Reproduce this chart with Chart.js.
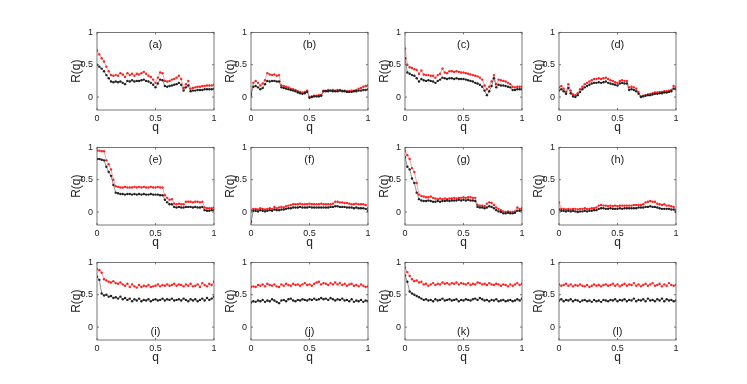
<!DOCTYPE html>
<html>
<head>
<meta charset="utf-8">
<script src="https://cdn.jsdelivr.net/npm/chart.js@4.4.0/dist/chart.umd.min.js"></script>
<style>
  body { margin: 0; background: #fff; }
  #wrap { position: relative; width: 747px; height: 384px; overflow: hidden; }
  #wrap canvas { position: absolute; }
</style>
</head>
<body>
<div id="wrap"></div>
<script>
const qVals = [0, 0.02, 0.04, 0.06, 0.08, 0.10, 0.12, 0.14, 0.16, 0.18,
    0.20, 0.22, 0.24, 0.26, 0.28, 0.30, 0.32, 0.34, 0.36, 0.38,
    0.40, 0.42, 0.44, 0.46, 0.48, 0.50, 0.52, 0.54, 0.56, 0.58,
    0.60, 0.62, 0.64, 0.66, 0.68, 0.70, 0.72, 0.74, 0.76, 0.78,
    0.80, 0.82, 0.84, 0.86, 0.88, 0.90, 0.92, 0.94, 0.96, 0.98, 1];
const xTicks = [0, 0.5, 1];
const yTicks = [0, 0.5, 1];
const panelLabels = ['(a)','(b)','(c)','(d)','(e)','(f)','(g)','(h)','(i)','(j)','(k)','(l)'];

//--------------------------//
const redA = [0.72, 0.66, 0.60, 0.55, 0.47, 0.40, 0.34, 0.33, 0.34, 0.33,
    0.37, 0.35, 0.31, 0.37, 0.34, 0.36, 0.33, 0.36, 0.35, 0.37,
    0.39, 0.36, 0.33, 0.31, 0.27, 0.22, 0.30, 0.38, 0.37, 0.25,
    0.24, 0.25, 0.27, 0.28, 0.30, 0.33, 0.28, 0.14, 0.20, 0.25,
    0.13, 0.14, 0.15, 0.16, 0.16, 0.17, 0.17, 0.18, 0.18, 0.18, 0.19];
const blackA = [0.50, 0.47, 0.44, 0.40, 0.34, 0.29, 0.24, 0.23, 0.24, 0.23,
    0.24, 0.22, 0.20, 0.25, 0.24, 0.26, 0.24, 0.25, 0.25, 0.26,
    0.27, 0.25, 0.24, 0.22, 0.19, 0.15, 0.21, 0.27, 0.26, 0.17,
    0.16, 0.17, 0.18, 0.19, 0.20, 0.22, 0.19, 0.10, 0.15, 0.18,
    0.09, 0.10, 0.10, 0.11, 0.11, 0.11, 0.12, 0.12, 0.12, 0.12, 0.13];

const redB = [0.02, 0.22, 0.25, 0.22, 0.18, 0.21, 0.26, 0.37, 0.35, 0.34,
    0.35, 0.33, 0.34, 0.18, 0.17, 0.16, 0.15, 0.13, 0.12, 0.11,
    0.09, 0.08, 0.07, 0.08, 0.10, 0.00, 0.01, 0.02, 0.02, 0.03,
    0.03, 0.10, 0.10, 0.11, 0.10, 0.11, 0.10, 0.11, 0.11, 0.10,
    0.10, 0.09, 0.09, 0.10, 0.10, 0.11, 0.13, 0.14, 0.16, 0.17, 0.18];
const blackB = [0.05, 0.16, 0.17, 0.15, 0.12, 0.14, 0.20, 0.25, 0.24, 0.25,
    0.25, 0.24, 0.24, 0.15, 0.14, 0.13, 0.12, 0.11, 0.10, 0.09,
    0.07, 0.06, 0.05, 0.06, 0.08, -0.01, 0.00, 0.01, 0.01, 0.01,
    0.02, 0.09, 0.09, 0.09, 0.10, 0.09, 0.09, 0.09, 0.10, 0.09,
    0.09, 0.08, 0.08, 0.08, 0.09, 0.09, 0.10, 0.10, 0.11, 0.11, 0.12];

const redC = [0.75, 0.50, 0.46, 0.45, 0.43, 0.42, 0.36, 0.41, 0.35, 0.34,
    0.34, 0.33, 0.33, 0.30, 0.34, 0.36, 0.44, 0.38, 0.37, 0.40,
    0.40, 0.39, 0.40, 0.39, 0.38, 0.38, 0.37, 0.36, 0.35, 0.34,
    0.33, 0.32, 0.30, 0.27, 0.18, 0.12, 0.16, 0.24, 0.34, 0.20,
    0.27, 0.26, 0.25, 0.24, 0.22, 0.20, 0.16, 0.15, 0.16, 0.16, 0.16];
const blackC = [0.60, 0.38, 0.36, 0.34, 0.33, 0.29, 0.24, 0.28, 0.26, 0.25,
    0.26, 0.25, 0.24, 0.22, 0.25, 0.27, 0.30, 0.29, 0.28, 0.29,
    0.29, 0.28, 0.29, 0.28, 0.28, 0.28, 0.27, 0.26, 0.25, 0.24,
    0.22, 0.21, 0.19, 0.16, 0.10, 0.03, 0.09, 0.17, 0.29, 0.15,
    0.19, 0.18, 0.18, 0.17, 0.16, 0.15, 0.11, 0.11, 0.12, 0.12, 0.12];

const redD = [0.15, 0.17, 0.13, 0.08, 0.20, 0.10, 0.04, 0.03, 0.06, 0.12,
    0.16, 0.20, 0.22, 0.24, 0.26, 0.28, 0.28, 0.29, 0.28, 0.29,
    0.30, 0.28, 0.26, 0.25, 0.23, 0.22, 0.25, 0.26, 0.25, 0.25,
    0.15, 0.16, 0.15, 0.13, 0.08, 0.01, 0.02, 0.03, 0.04, 0.05,
    0.06, 0.07, 0.07, 0.08, 0.08, 0.09, 0.09, 0.10, 0.11, 0.17, 0.15];
const blackD = [0.10, 0.12, 0.09, 0.05, 0.14, 0.06, 0.01, 0.00, 0.03, 0.08,
    0.12, 0.15, 0.17, 0.19, 0.21, 0.22, 0.22, 0.23, 0.22, 0.23,
    0.24, 0.22, 0.21, 0.20, 0.19, 0.18, 0.21, 0.22, 0.21, 0.21,
    0.11, 0.12, 0.11, 0.09, 0.05, 0.00, 0.01, 0.02, 0.03, 0.03,
    0.04, 0.05, 0.05, 0.06, 0.06, 0.07, 0.07, 0.08, 0.09, 0.13, 0.12];

const redE = [0.95, 0.95, 0.94, 0.94, 0.80, 0.74, 0.66, 0.50, 0.40, 0.39,
    0.38, 0.38, 0.39, 0.38, 0.38, 0.38, 0.39, 0.38, 0.39, 0.38,
    0.39, 0.38, 0.38, 0.39, 0.38, 0.38, 0.39, 0.38, 0.38, 0.26,
    0.22, 0.19, 0.20, 0.13, 0.12, 0.13, 0.12, 0.12, 0.16, 0.16,
    0.16, 0.15, 0.16, 0.16, 0.15, 0.16, 0.07, 0.06, 0.06, 0.06, 0.07];
const blackE = [0.82, 0.82, 0.81, 0.80, 0.70, 0.62, 0.56, 0.42, 0.30, 0.29,
    0.28, 0.28, 0.27, 0.28, 0.28, 0.27, 0.28, 0.27, 0.28, 0.27,
    0.28, 0.27, 0.27, 0.28, 0.27, 0.27, 0.27, 0.26, 0.26, 0.19,
    0.15, 0.12, 0.12, 0.08, 0.07, 0.08, 0.07, 0.07, 0.08, 0.08,
    0.08, 0.07, 0.08, 0.07, 0.07, 0.08, 0.03, 0.02, 0.02, 0.03, 0.03];

const redF = [0.03, 0.05, 0.05, 0.04, 0.06, 0.05, 0.04, 0.05, 0.06, 0.05,
    0.08, 0.06, 0.07, 0.08, 0.07, 0.09, 0.10, 0.11, 0.12, 0.12,
    0.12, 0.13, 0.12, 0.12, 0.12, 0.13, 0.12, 0.12, 0.12, 0.12,
    0.13, 0.12, 0.12, 0.12, 0.12, 0.13, 0.16, 0.16, 0.15, 0.15,
    0.14, 0.14, 0.13, 0.12, 0.12, 0.13, 0.12, 0.12, 0.12, 0.11, 0.06];
const blackF = [-0.15, 0.02, 0.02, 0.01, 0.03, 0.02, 0.01, 0.02, 0.03, 0.02,
    0.04, 0.03, 0.03, 0.04, 0.04, 0.05, 0.06, 0.06, 0.07, 0.07,
    0.07, 0.08, 0.07, 0.07, 0.07, 0.08, 0.07, 0.07, 0.07, 0.07,
    0.07, 0.07, 0.07, 0.07, 0.08, 0.08, 0.09, 0.09, 0.08, 0.08,
    0.08, 0.07, 0.07, 0.07, 0.06, 0.07, 0.06, 0.06, 0.06, 0.05, 0.02];

const redG = [0.95, 0.88, 0.82, 0.68, 0.62, 0.45, 0.27, 0.25, 0.24, 0.23,
    0.23, 0.24, 0.22, 0.21, 0.20, 0.21, 0.20, 0.21, 0.20, 0.21,
    0.21, 0.22, 0.21, 0.22, 0.22, 0.23, 0.22, 0.23, 0.23, 0.22,
    0.22, 0.11, 0.10, 0.10, 0.09, 0.13, 0.15, 0.14, 0.11, 0.07,
    0.05, 0.03, 0.01, 0.00, 0.01, 0.00, 0.00, 0.01, 0.07, 0.05, 0.06];
const blackG = [0.85, 0.70, 0.66, 0.52, 0.45, 0.30, 0.20, 0.18, 0.17, 0.17,
    0.18, 0.17, 0.16, 0.16, 0.17, 0.16, 0.17, 0.17, 0.18, 0.17,
    0.18, 0.18, 0.18, 0.19, 0.18, 0.19, 0.18, 0.19, 0.18, 0.18,
    0.17, 0.08, 0.07, 0.07, 0.06, 0.07, 0.09, 0.08, 0.06, 0.03,
    0.01, 0.00, -0.02, -0.02, -0.01, -0.02, -0.02, -0.01, 0.02, 0.02, 0.03];

const redH = [0.15, 0.05, 0.05, 0.04, 0.05, 0.04, 0.05, 0.05, 0.04, 0.05,
    0.05, 0.06, 0.05, 0.05, 0.06, 0.06, 0.07, 0.10, 0.11, 0.10,
    0.10, 0.09, 0.10, 0.09, 0.10, 0.09, 0.10, 0.10, 0.10, 0.10,
    0.10, 0.10, 0.11, 0.11, 0.11, 0.11, 0.12, 0.15, 0.16, 0.17,
    0.16, 0.16, 0.13, 0.12, 0.11, 0.12, 0.10, 0.10, 0.09, 0.08, 0.03];
const blackH = [0.04, 0.02, 0.02, 0.01, 0.02, 0.01, 0.02, 0.01, 0.00, 0.01,
    0.01, 0.02, 0.01, 0.02, 0.02, 0.03, 0.03, 0.05, 0.06, 0.06,
    0.05, 0.05, 0.06, 0.05, 0.05, 0.05, 0.06, 0.05, 0.06, 0.06,
    0.06, 0.06, 0.06, 0.06, 0.07, 0.07, 0.07, 0.08, 0.08, 0.09,
    0.08, 0.08, 0.07, 0.06, 0.05, 0.05, 0.05, 0.05, 0.04, 0.04, 0.00];

const redI = [0.90, 0.88, 0.84, 0.74, 0.72, 0.70, 0.69, 0.71, 0.68, 0.67,
    0.69, 0.66, 0.64, 0.67, 0.62, 0.66, 0.63, 0.61, 0.65, 0.62,
    0.64, 0.63, 0.65, 0.62, 0.63, 0.64, 0.66, 0.63, 0.65, 0.64,
    0.66, 0.64, 0.65, 0.67, 0.64, 0.66, 0.65, 0.63, 0.66, 0.64,
    0.67, 0.63, 0.64, 0.66, 0.62, 0.68, 0.65, 0.63, 0.67, 0.65, 0.70];
const blackI = [0.78, 0.73, 0.52, 0.49, 0.50, 0.47, 0.48, 0.45, 0.46, 0.44,
    0.47, 0.43, 0.45, 0.42, 0.44, 0.40, 0.43, 0.41, 0.44, 0.40,
    0.42, 0.41, 0.43, 0.40, 0.42, 0.43, 0.41, 0.42, 0.44, 0.41,
    0.43, 0.42, 0.44, 0.41, 0.42, 0.43, 0.41, 0.44, 0.42, 0.40,
    0.43, 0.41, 0.43, 0.40, 0.42, 0.44, 0.41, 0.45, 0.42, 0.44, 0.47];

const redJ = [0.62, 0.63, 0.62, 0.65, 0.64, 0.66, 0.63, 0.67, 0.65, 0.64,
    0.66, 0.63, 0.62, 0.66, 0.64, 0.67, 0.65, 0.64, 0.67, 0.65,
    0.66, 0.64, 0.66, 0.68, 0.65, 0.66, 0.64, 0.67, 0.69, 0.70,
    0.66, 0.68, 0.67, 0.65, 0.68, 0.66, 0.69, 0.66, 0.68, 0.65,
    0.67, 0.64, 0.66, 0.67, 0.64, 0.65, 0.63, 0.66, 0.64, 0.62, 0.63];
const blackJ = [0.38, 0.40, 0.39, 0.41, 0.40, 0.42, 0.39, 0.41, 0.40, 0.43,
    0.41, 0.39, 0.37, 0.41, 0.42, 0.40, 0.43, 0.44, 0.41, 0.40,
    0.42, 0.41, 0.43, 0.42, 0.41, 0.43, 0.42, 0.44, 0.42, 0.43,
    0.45, 0.43, 0.44, 0.42, 0.45, 0.43, 0.41, 0.43, 0.42, 0.44,
    0.41, 0.42, 0.40, 0.43, 0.39, 0.41, 0.40, 0.42, 0.39, 0.41, 0.40];

const redK = [0.92, 0.85, 0.79, 0.74, 0.71, 0.72, 0.69, 0.70, 0.66, 0.67,
    0.64, 0.66, 0.68, 0.65, 0.67, 0.66, 0.69, 0.67, 0.68, 0.66,
    0.68, 0.67, 0.69, 0.66, 0.68, 0.67, 0.66, 0.68, 0.65, 0.67,
    0.66, 0.69, 0.68, 0.66, 0.67, 0.65, 0.68, 0.66, 0.65, 0.67,
    0.66, 0.64, 0.66, 0.65, 0.63, 0.66, 0.64, 0.66, 0.68, 0.65, 0.67];
const blackK = [0.80, 0.70, 0.55, 0.52, 0.50, 0.48, 0.46, 0.44, 0.42, 0.43,
    0.41, 0.42, 0.40, 0.43, 0.41, 0.42, 0.44, 0.41, 0.42, 0.43,
    0.41, 0.42, 0.43, 0.40, 0.42, 0.41, 0.43, 0.42, 0.41, 0.43,
    0.44, 0.42, 0.45, 0.43, 0.41, 0.42, 0.40, 0.42, 0.41, 0.43,
    0.40, 0.41, 0.42, 0.40, 0.41, 0.42, 0.40, 0.41, 0.43, 0.41, 0.44];

const redL = [0.66, 0.64, 0.65, 0.67, 0.64, 0.66, 0.63, 0.65, 0.64, 0.66,
    0.64, 0.63, 0.65, 0.62, 0.64, 0.66, 0.64, 0.65, 0.63, 0.65,
    0.66, 0.64, 0.65, 0.67, 0.64, 0.66, 0.63, 0.65, 0.67, 0.64,
    0.66, 0.65, 0.68, 0.64, 0.66, 0.63, 0.65, 0.67, 0.64, 0.66,
    0.68, 0.64, 0.65, 0.67, 0.63, 0.66, 0.64, 0.68, 0.65, 0.64, 0.65];
const blackL = [0.41, 0.43, 0.40, 0.42, 0.41, 0.43, 0.40, 0.42, 0.41, 0.39,
    0.41, 0.42, 0.40, 0.41, 0.39, 0.42, 0.40, 0.41, 0.39, 0.42,
    0.41, 0.40, 0.42, 0.41, 0.43, 0.40, 0.42, 0.41, 0.43, 0.40,
    0.42, 0.41, 0.44, 0.40, 0.42, 0.41, 0.43, 0.40, 0.44, 0.41,
    0.42, 0.40, 0.43, 0.41, 0.44, 0.40, 0.43, 0.41, 0.42, 0.40, 0.41];

const redSeries = [redA, redB, redC, redD, redE, redF, redG, redH, redI, redJ, redK, redL];
const blackSeries = [blackA, blackB, blackC, blackD, blackE, blackF, blackG, blackH, blackI, blackJ, blackK, blackL];
//---------------------------//

const FONT = "'Liberation Sans', Arial, sans-serif";
const plotLefts = [97, 251, 405, 559];
const plotTops = [29, 144, 259];
const plotW = 117, plotH = 81;
const padL = 40, padT = 6, padR = 6, padB = 32;

// matlab style box with inward ticks and the panel letter
const boxPlugin = {
    id: 'box',
    afterDraw(chart, args, opts) {
        const ctx = chart.ctx;
        const a = chart.chartArea;
        const xs = chart.scales.x, ys = chart.scales.y;
        ctx.save();
        ctx.strokeStyle = '#555';
        ctx.lineWidth = 0.8;
        ctx.strokeRect(a.left, a.top, a.right - a.left, a.bottom - a.top);
        ctx.beginPath();
        xTicks.forEach(v => {
            const px = xs.getPixelForValue(v);
            ctx.moveTo(px, a.bottom); ctx.lineTo(px, a.bottom - 2);
            ctx.moveTo(px, a.top); ctx.lineTo(px, a.top + 2);
        });
        yTicks.forEach(v => {
            const py = ys.getPixelForValue(v);
            ctx.moveTo(a.left, py); ctx.lineTo(a.left + 2, py);
            ctx.moveTo(a.right, py); ctx.lineTo(a.right - 2, py);
        });
        ctx.stroke();
        ctx.fillStyle = '#222';
        ctx.font = '11px ' + FONT;
        ctx.textAlign = 'center';
        ctx.textBaseline = 'middle';
        const cx = (a.left + a.right) / 2;
        const cy = opts.bottom ? a.bottom - 8 : a.top + 13;
        ctx.fillText(opts.text, cx, cy);
        ctx.restore();
    }
};

function makeConfig(i) {
    const red = redSeries[i];
    const black = blackSeries[i];
    return {
        type: 'scatter',
        data: {
            datasets: [
                {
                    data: qVals.map((q, k) => ({x: q, y: black[k]})),
                    showLine: true,
                    borderColor: 'rgba(30,30,30,0.8)',
                    backgroundColor: '#222',
                    borderWidth: 0.6,
                    pointRadius: 1.2,
                    pointBorderWidth: 0
                },
                {
                    data: qVals.map((q, k) => ({x: q, y: red[k]})),
                    showLine: true,
                    borderColor: 'rgba(255,40,40,0.75)',
                    backgroundColor: '#f22',
                    borderWidth: 0.6,
                    pointRadius: 1.2,
                    pointBorderWidth: 0
                }
            ]
        },
        options: {
            responsive: false,
            animation: false,
            events: [],
            layout: { padding: { top: padT, right: padR, left: 0, bottom: 0 } },
            plugins: {
                legend: { display: false },
                tooltip: { enabled: false },
                box: { text: panelLabels[i], bottom: i >= 8 }
            },
            scales: {
                x: {
                    type: 'linear',
                    min: 0,
                    max: 1,
                    afterBuildTicks: s => { s.ticks = xTicks.map(v => ({value: v})); },
                    afterFit: s => { s.height = padB; },
                    grid: { display: false, drawTicks: false },
                    border: { display: false },
                    ticks: { color: '#222', padding: 3, maxRotation: 0, font: { size: 9, family: FONT }, callback: v => String(v) },
                    title: { display: true, text: 'q', color: '#222', font: { size: 12, family: FONT }, padding: { top: 0, bottom: 7 } }
                },
                y: {
                    min: -0.2,
                    max: 1,
                    afterBuildTicks: s => { s.ticks = yTicks.map(v => ({value: v})); },
                    afterFit: s => { s.width = padL; },
                    grid: { display: false, drawTicks: false },
                    border: { display: false },
                    ticks: { color: '#222', padding: 4, font: { size: 9, family: FONT }, callback: v => String(v) },
                    title: { display: true, text: 'R(q)', color: '#222', font: { size: 12, family: FONT }, padding: { top: 12, bottom: 0 } }
                }
            }
        },
        plugins: [boxPlugin]
    };
}

const wrap = document.getElementById('wrap');
for (let i = 0; i < 12; i++) {
    const row = Math.floor(i / 4), col = i % 4;
    const cv = document.createElement('canvas');
    const w = padL + plotW + padR, h = padT + plotH + padB;
    cv.width = w; cv.height = h;
    cv.style.width = w + 'px'; cv.style.height = h + 'px';
    cv.style.left = (plotLefts[col] - padL) + 'px';
    cv.style.top = (plotTops[row] - padT) + 'px';
    wrap.appendChild(cv);
    new Chart(cv, makeConfig(i));
}
</script>
</body>
</html>
